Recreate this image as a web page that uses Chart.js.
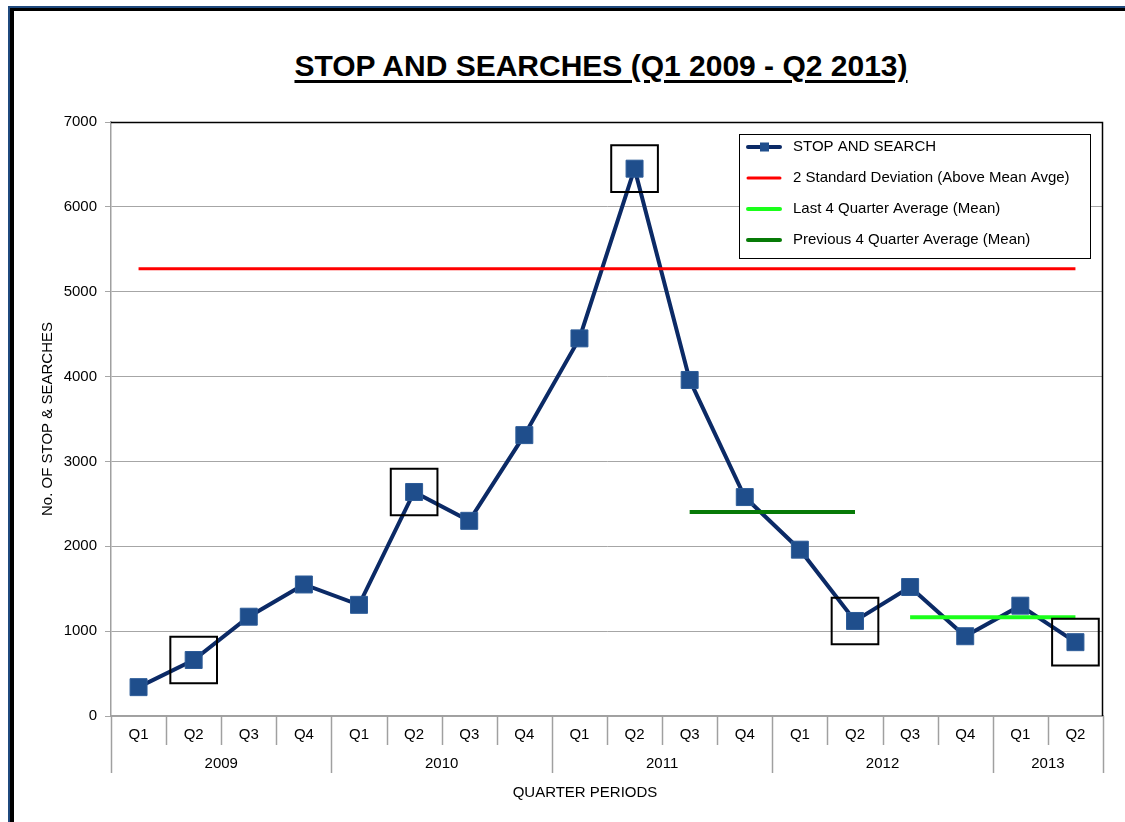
<!DOCTYPE html>
<html>
<head>
<meta charset="utf-8">
<script src="https://cdn.jsdelivr.net/npm/chart.js@4"></script>
<style>
html,body{margin:0;padding:0;background:#fff;width:1125px;height:822px;overflow:hidden;}
#frame1{position:absolute;left:8px;top:6px;width:1300px;height:1000px;border-left:2px solid #1F497D;border-top:2px solid #1F497D;}
#frame2{position:absolute;left:10px;top:8px;width:1300px;height:1000px;border-left:4px solid #000;border-top:3px solid #000;}
#title{position:absolute;left:0;top:49px;width:1202px;text-align:center;font:bold 30px "Liberation Sans",Arial,sans-serif;color:#000;text-decoration:underline;text-decoration-thickness:3px;text-underline-offset:4px;}
canvas{position:absolute;left:0;top:0;}
</style>
</head>
<body>
<div id="frame1"></div>
<div id="frame2"></div>
<div id="title">STOP AND SEARCHES (Q1 2009 - Q2 2013)</div>
<canvas id="c" width="1125" height="822"></canvas>
<script>
const quarters = ['Q1','Q2','Q3','Q4','Q1','Q2','Q3','Q4','Q1','Q2','Q3','Q4','Q1','Q2','Q3','Q4','Q1','Q2'];
const years = ['2009','2010','2011','2012','2013'];
const quartersPerYear = [4,4,4,4,2];
const stopAndSearch = [340,660,1170,1550,1310,2640,2300,3310,4450,6450,3960,2580,1960,1120,1520,940,1300,870];
const twoStdDevLine = [5270,5270,5270,5270,5270,5270,5270,5270,5270,5270,5270,5270,5270,5270,5270,5270,5270,5270];
const lastQuarterAvg = [null,null,null,null,null,null,null,null,null,null,null,null,null,null,1165,1165,1165,1165];
const prevQuarterAvg = [null,null,null,null,null,null,null,null,null,null,2405,2405,2405,2405,null,null,null,null];
const highlightedIdx = [1,5,9,13,17];
const yTicks = [0,1000,2000,3000,4000,5000,6000,7000];

const highlightData = stopAndSearch.map((v,i)=> highlightedIdx.includes(i) ? v : null);
const FONT = 'Liberation Sans';

const legendItems = [
  {text:'STOP AND SEARCH', color:'#0B2A66', width:4, marker:true},
  {text:'2 Standard Deviation (Above Mean Avge)', color:'#FF0000', width:3},
  {text:'Last 4 Quarter Average (Mean)', color:'#1AFF1A', width:4},
  {text:'Previous 4 Quarter Average (Mean)', color:'#077A07', width:4}
];

const decor = {
  id:'decor',
  beforeDatasetsDraw(chart){
    const {ctx, chartArea:a} = chart;
    ctx.save();
    ctx.strokeStyle='#000'; ctx.lineWidth=1.5;
    ctx.beginPath();
    ctx.moveTo(a.left, a.top+0.5); ctx.lineTo(a.right-0.5, a.top+0.5); ctx.lineTo(a.right-0.5, a.bottom);
    ctx.stroke();
    ctx.restore();
  },
  afterDraw(chart){
    const {ctx, chartArea:a} = chart;
    const xs = chart.scales.x;
    const n = quarters.length;
    const bound = i => i===0 ? a.left : (i===n ? a.right : (xs.getPixelForValue(i-1)+xs.getPixelForValue(i))/2);
    ctx.save();
    const yearBounds = [0]; quartersPerYear.forEach(q=>yearBounds.push(yearBounds[yearBounds.length-1]+q));
    ctx.strokeStyle='#a0a0a0'; ctx.lineWidth=1.5;
    for(let i=0;i<=n;i++){
      const x = Math.round(bound(i))+0.5;
      const isYear = yearBounds.includes(i);
      ctx.beginPath(); ctx.moveTo(x, a.bottom); ctx.lineTo(x, isYear ? a.bottom+57 : a.bottom+29); ctx.stroke();
    }
    ctx.fillStyle='#000'; ctx.font='15px "'+FONT+'"'; ctx.textAlign='center'; ctx.textBaseline='middle';
    years.forEach((y,k)=>{
      const x = (bound(yearBounds[k])+bound(yearBounds[k+1]))/2;
      ctx.fillText(y, x, a.bottom+48);
    });
    ctx.fillText('QUARTER PERIODS', 585, 793);
    const L = {x:739, y:134, w:351, h:124};
    ctx.fillStyle='#fff'; ctx.fillRect(L.x, L.y, L.w, L.h);
    ctx.strokeStyle='#000'; ctx.lineWidth=1;
    ctx.strokeRect(L.x+0.5, L.y+0.5, L.w, L.h);
    legendItems.forEach((it,k)=>{
      const y = 147 + k*31;
      ctx.strokeStyle=it.color; ctx.lineWidth=it.width; ctx.lineCap='round';
      ctx.beginPath(); ctx.moveTo(748,y); ctx.lineTo(780,y); ctx.stroke();
      if(it.marker){ ctx.fillStyle='#1F4E8C'; ctx.fillRect(760,y-4.5,9,9); }
      ctx.fillStyle='#000'; ctx.textAlign='left'; ctx.textBaseline='middle';
      ctx.fillText(it.text, 793, y);
    });
    ctx.restore();
  }
};

new Chart(document.getElementById('c'), {
  type:'line',
  data:{
    labels:quarters,
    datasets:[
      {label:'STOP AND SEARCH', data:stopAndSearch, borderColor:'#0B2A66', borderWidth:4, tension:0,
       pointStyle:'rect', pointRadius:12, pointBackgroundColor:'#1F4E8C', pointBorderColor:'#2D5C98', pointBorderWidth:1, order:4},
      {label:'2 Standard Deviation (Above Mean Avge)', data:twoStdDevLine, borderColor:'#FF0000', borderWidth:3, pointRadius:0, order:3},
      {label:'Last 4 Quarter Average (Mean)', data:lastQuarterAvg, borderColor:'#1AFF1A', borderWidth:4, pointRadius:0, order:2},
      {label:'Previous 4 Quarter Average (Mean)', data:prevQuarterAvg, borderColor:'#077A07', borderWidth:4, pointRadius:0, order:1},
      {label:'highlight', data:highlightData, showLine:false, pointStyle:'rect', pointRadius:33,
       pointBackgroundColor:'rgba(0,0,0,0)', pointBorderColor:'#000', pointBorderWidth:2, order:0}
    ]
  },
  options:{
    responsive:false, animation:false, events:[],
    layout:{autoPadding:false, padding:{top:122,right:22,left:0,bottom:6}},
    plugins:{legend:{display:false}, tooltip:{enabled:false}, title:{display:false}},
    scales:{
      x:{
        offset:true,
        grid:{display:false, drawTicks:false},
        border:{color:'#a0a0a0', width:1.5},
        ticks:{padding:10, color:'#000', autoSkip:false, maxRotation:0, font:{family:FONT, size:15}},
        afterFit(s){ s.height = 100; s.paddingLeft = 0; s.paddingRight = 0; }
      },
      y:{
        min:0, max:7000,
        afterBuildTicks(s){ s.ticks = yTicks.map(v=>({value:v})); },
        ticks:{padding:8, color:'#000', font:{family:FONT, size:15}, callback:v=>String(v)},
        grid:{color:'#a6a6a6', tickLength:6, lineWidth:1},
        border:{color:'#a0a0a0', width:1.5},
        title:{display:true, text:'No. OF STOP & SEARCHES', color:'#000', font:{family:FONT, size:15}, padding:{top:39, bottom:0}},
        afterFit(s){ s.width = 111; s.paddingTop = 0; s.paddingBottom = 0; }
      }
    }
  },
  plugins:[decor]
});
</script>
</body>
</html>
